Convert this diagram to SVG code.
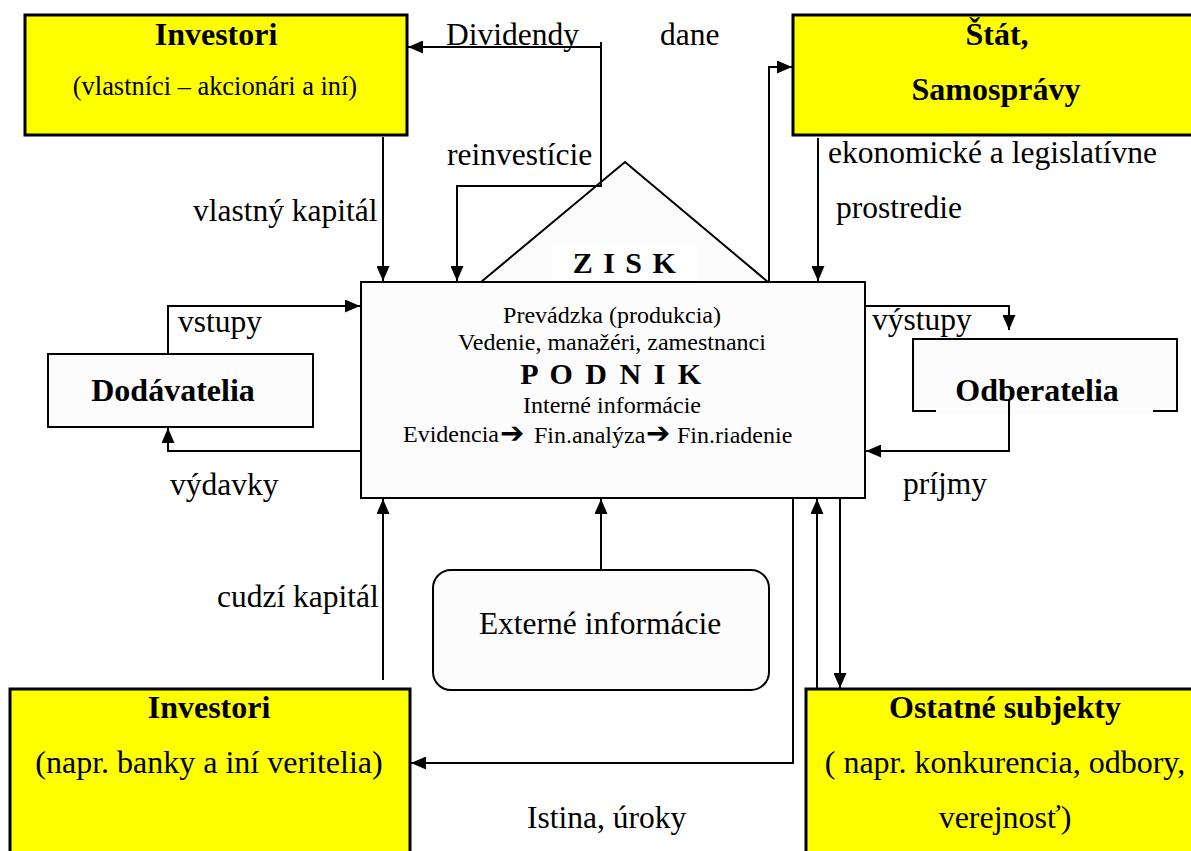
<svg xmlns="http://www.w3.org/2000/svg" width="1191" height="851" viewBox="0 0 1191 851">
<defs>
<style>
text{font-family:"Liberation Serif","Times New Roman",serif;fill:#000}
.lbl{font-size:31.5px}
.b{font-size:32px;font-weight:bold}
.sub{font-size:32px}
.pd{font-size:24px}
.ybox{fill:#ffff00;stroke:#000;stroke-width:3}
.wbox{fill:#fcfcfc;stroke:#000;stroke-width:2}
.con path{fill:none;stroke:#000;stroke-width:2}
.arr{marker-end:url(#ah)}
.sym{font-family:"DejaVu Sans",sans-serif;font-size:29px}
</style>
<marker id="ah" markerWidth="15" markerHeight="13" refX="15" refY="6.5" orient="auto" markerUnits="userSpaceOnUse">
<path d="M0,0 L15,6.5 L0,13 z" fill="#000"/>
</marker>
</defs>
<rect width="1191" height="851" fill="#fff"/>

<g id="investori-vlastnici">
<rect class="ybox" x="25" y="15" width="382" height="120"/>
<text class="b" x="216" y="45" text-anchor="middle">Investori</text>
<text x="215" y="95" text-anchor="middle" style="font-size:26.4px">(vlastníci – akcionári a iní)</text>
</g>

<g id="stat">
<rect class="ybox" x="793" y="15" width="420" height="120"/>
<text class="b" x="997" y="45" text-anchor="middle">Štát,</text>
<text class="b" x="996" y="100" text-anchor="middle">Samosprávy</text>
</g>

<g id="podnik">
<rect class="wbox" x="361" y="282" width="504" height="216"/>
<text class="pd" x="612" y="323" text-anchor="middle">Prevádzka (produkcia)</text>
<text class="pd" x="612" y="350" text-anchor="middle">Vedenie, manažéri, zamestnanci</text>
<text x="612" y="384" text-anchor="middle" style="font-size:30px;font-weight:bold;letter-spacing:2.5px">P O D N I K</text>
<text class="pd" x="612" y="413" text-anchor="middle">Interné informácie</text>
<text class="pd" y="442"><tspan x="403">Evidencia</tspan><tspan class="sym" x="500" y="443">➔</tspan><tspan x="528"> Fin.analýza</tspan><tspan class="sym" x="646" y="443">➔</tspan><tspan x="671"> Fin.riadenie</tspan></text>
</g>

<g id="zisk">
<polygon points="481,282 625,162 768,282" fill="#fcfcfc" stroke="#000" stroke-width="2"/>
<rect x="553" y="244" width="144" height="37" fill="#fff"/>
<line x1="481" y1="282" x2="768" y2="282" stroke="#000" stroke-width="2"/>
<text x="625" y="273" text-anchor="middle" style="font-size:30px;font-weight:bold;letter-spacing:1.5px">Z I S K</text>
</g>

<g id="dodavatelia">
<rect class="wbox" x="48" y="354" width="265" height="73"/>
<text class="b" x="173" y="401" text-anchor="middle">Dodávatelia</text>
</g>

<g id="odberatelia">
<rect class="wbox" x="913" y="339" width="264" height="72"/>
<rect x="936" y="396" width="217" height="18" fill="#fcfcfc"/>
<text class="b" x="1037" y="401" text-anchor="middle">Odberatelia</text>
</g>

<g id="externe">
<rect class="wbox" x="433" y="570" width="336" height="120" rx="18" ry="18"/>
<text class="lbl" x="600" y="634" text-anchor="middle">Externé informácie</text>
</g>

<g id="investori-veritelia">
<rect class="ybox" x="10" y="689" width="400" height="180"/>
<text class="b" x="209" y="718" text-anchor="middle">Investori</text>
<text class="sub" x="209" y="773" text-anchor="middle">(napr. banky a iní veritelia)</text>
</g>

<g id="ostatne">
<rect class="ybox" x="806" y="689" width="420" height="180"/>
<text class="b" x="1005" y="718" text-anchor="middle">Ostatné subjekty</text>
<text class="sub" x="1005" y="773" text-anchor="middle">( napr. konkurencia, odbory,</text>
<text class="sub" x="1005" y="828" text-anchor="middle">verejnosť)</text>
</g>

<g id="connectors" class="con">
<path class="arr" d="M601,42 V186 H457 V281"/>
<path class="arr" d="M601,47 H408"/>
<path class="arr" d="M769,282 V67 H792"/>
<path class="arr" d="M383,137 V281"/>
<path class="arr" d="M818,138 V281"/>
<path class="arr" d="M168,354 V306 H360"/>
<path class="arr" d="M361,451 H168 V428"/>
<path class="arr" d="M865,306 H1009 V330"/>
<path class="arr" d="M1009,400 V451 H866"/>
<path class="arr" d="M383,680 V499"/>
<path class="arr" d="M601,570 V499"/>
<path class="arr" d="M793,498 V763 H411"/>
<path class="arr" d="M817,690 V499"/>
<path class="arr" d="M840,498 V688"/>
</g>

<g id="labels">
<text class="lbl" x="446" y="45">Dividendy</text>
<text class="lbl" x="660" y="45">dane</text>
<text class="lbl" x="447" y="165">reinvestície</text>
<text class="lbl" x="193" y="221">vlastný kapitál</text>
<text class="lbl" x="828" y="163">ekonomické a legislatívne</text>
<text class="lbl" x="836" y="218">prostredie</text>
<text class="lbl" x="178" y="332">vstupy</text>
<text class="lbl" x="170" y="495">výdavky</text>
<text class="lbl" x="872" y="330">výstupy</text>
<text class="lbl" x="903" y="494">príjmy</text>
<text class="lbl" x="217" y="607">cudzí kapitál</text>
<text class="lbl" x="527" y="828">Istina, úroky</text>
</g>
</svg>
